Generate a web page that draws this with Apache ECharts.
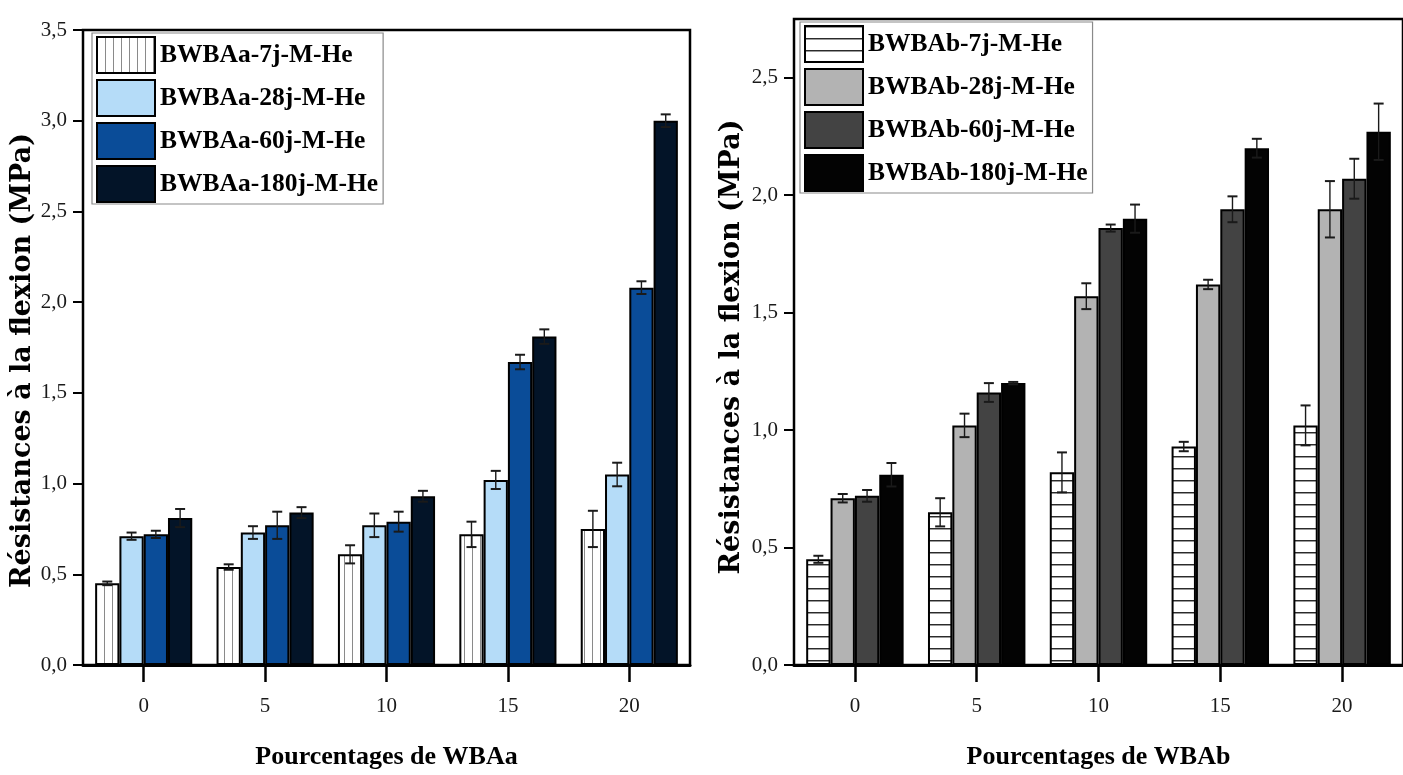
<!DOCTYPE html>
<html>
<head>
<meta charset="utf-8">
<script src="https://cdn.jsdelivr.net/npm/echarts@6/dist/echarts.min.js"></script>
<style>html,body{margin:0;padding:0;background:#fff}#c{width:1403px;height:775px}</style>
</head>
<body>
<div id="c"></div>
<script>
// ---------- DATA ----------
const categories = ['0', '5', '10', '15', '20'];
const namesA = ['BWBAa-7j-M-He', 'BWBAa-28j-M-He', 'BWBAa-60j-M-He', 'BWBAa-180j-M-He'];
const namesB = ['BWBAb-7j-M-He', 'BWBAb-28j-M-He', 'BWBAb-60j-M-He', 'BWBAb-180j-M-He'];

const a7   = [0.45, 0.54, 0.61, 0.72, 0.75];
const a28  = [0.71, 0.73, 0.77, 1.02, 1.05];
const a60  = [0.72, 0.77, 0.79, 1.67, 2.08];
const a180 = [0.81, 0.84, 0.93, 1.81, 3.00];
const a7Err   = [0.010, 0.015, 0.050, 0.070, 0.100];
const a28Err  = [0.020, 0.035, 0.065, 0.050, 0.065];
const a60Err  = [0.020, 0.075, 0.055, 0.040, 0.035];
const a180Err = [0.050, 0.030, 0.030, 0.040, 0.035];

const b7   = [0.45, 0.65, 0.82, 0.93, 1.02];
const b28  = [0.71, 1.02, 1.57, 1.62, 1.94];
const b60  = [0.72, 1.16, 1.86, 1.94, 2.07];
const b180 = [0.81, 1.20, 1.90, 2.20, 2.27];
const b7Err   = [0.015, 0.060, 0.085, 0.020, 0.085];
const b28Err  = [0.018, 0.050, 0.055, 0.020, 0.120];
const b60Err  = [0.025, 0.040, 0.015, 0.055, 0.085];
const b180Err = [0.050, 0.005, 0.060, 0.040, 0.120];

const yTicksA = [0, 0.5, 1.0, 1.5, 2.0, 2.5, 3.0, 3.5];
const yTicksB = [0, 0.5, 1.0, 1.5, 2.0, 2.5];

// ---------- STYLE HELPERS ----------
function hatch(vertical) {
  const c = document.createElement('canvas');
  if (vertical) {
    c.width = 8; c.height = 8;
    const g = c.getContext('2d');
    g.fillStyle = '#ffffff'; g.fillRect(0, 0, 8, 8);
    g.fillStyle = '#8a8a8a'; g.fillRect(0, 0, 1, 8);
  } else {
    c.width = 8; c.height = 12;
    const g = c.getContext('2d');
    g.fillStyle = '#ffffff'; g.fillRect(0, 0, 8, 12);
    g.fillStyle = '#2a2a2a'; g.fillRect(0, 0, 8, 1);
    g.fillStyle = '#9a9a9a'; g.fillRect(0, 1, 8, 1);
  }
  return { image: c, repeat: 'repeat' };
}
const colorsA = [hatch(true), '#b5dcf8', '#0a4c98', '#031428'];
const colorsB = [hatch(false), '#b3b3b3', '#434343', '#030303'];

const serif = 'Liberation Serif';
const fmt = v => Number(v).toFixed(1).replace('.', ',');

function barSeries(names, values, colors, axisIdx) {
  return names.map((n, i) => ({
    name: n, type: 'bar', xAxisIndex: axisIdx, yAxisIndex: axisIdx,
    data: values[i], barGap: '0%', barCategoryGap: '20%',
    itemStyle: { color: colors[i], borderColor: '#000', borderWidth: 2 },
    emphasis: { disabled: true }, z: 2
  }));
}
function errSeries(values, errs, axisIdx) {
  const data = [];
  values.forEach((arr, si) => arr.forEach((v, ci) => data.push([ci, si, v, errs[si][ci]])));
  return {
    type: 'custom', xAxisIndex: axisIdx, yAxisIndex: axisIdx, z: 5, silent: true,
    encode: { x: 0, y: 2 }, data: data,
    renderItem: function (params, api) {
      const ci = api.value(0), si = api.value(1), v = api.value(2), e = api.value(3);
      const band = api.size([1, 0])[0];
      const bw = band * 0.8 / 4;
      const off = (si - 1.5) * bw;
      const t = api.coord([ci, v + e]);
      const b = api.coord([ci, v - e]);
      const x = t[0] + off, cap = 5;
      const st = { stroke: '#1a1a1a', lineWidth: 1.4 };
      const sc = { stroke: '#1a1a1a', lineWidth: 2 };
      return { type: 'group', children: [
        { type: 'line', shape: { x1: x, y1: t[1], x2: x, y2: b[1] }, style: st },
        { type: 'line', shape: { x1: x - cap, y1: t[1], x2: x + cap, y2: t[1] }, style: sc },
        { type: 'line', shape: { x1: x - cap, y1: b[1], x2: x + cap, y2: b[1] }, style: sc }
      ]};
    }
  };
}
function xAxisCfg(idx, name) {
  return {
    type: 'category', gridIndex: idx, data: categories,
    axisLine: { show: true, lineStyle: { color: '#000', width: 3 } },
    axisTick: { show: true, alignWithLabel: true, length: 17, lineStyle: { color: '#000', width: 2.5 } },
    axisLabel: { fontFamily: serif, fontSize: 21, color: '#1a1a1a', margin: 31 },
    name: name, nameLocation: 'middle', nameGap: 79,
    nameTextStyle: { fontFamily: serif, fontWeight: 'bold', fontSize: 26, color: '#000' },
    splitLine: { show: false }
  };
}
function yAxisCfg(idx, max, gap, shift) {
  return {
    type: 'value', gridIndex: idx, min: 0, max: max, interval: 0.5,
    axisLine: { show: true, lineStyle: { color: '#000', width: 2 } },
    axisTick: { show: true, length: 10, lineStyle: { color: '#000', width: 2 } },
    axisLabel: { fontFamily: serif, fontSize: 21, color: '#1a1a1a', margin: 16, formatter: fmt, showMaxLabel: idx === 0 },
    splitLine: { show: false },
    name: 'Résistances à la flexion (MPa)', nameLocation: 'middle', nameGap: gap, nameRotate: 90,
    nameTextStyle: { fontFamily: 'DejaVu Serif', fontWeight: 'bold', fontSize: 27, color: '#000', padding: [0, shift, 0, 0] }
  };
}
function legendCfg(names, left, top) {
  return {
    data: names.map(n => ({ name: n, icon: 'rect' })), orient: 'vertical', left: left, top: top,
    itemWidth: 58, itemHeight: 36, itemGap: 5,
    padding: [3, 5, 1, 4],
    backgroundColor: '#fff', borderColor: '#8a8a8a', borderWidth: 1.2,
    selectedMode: false,
    textStyle: { fontFamily: serif, fontWeight: 'bold', fontSize: 25.5, color: '#000' }
  };
}

const chart = echarts.init(document.getElementById('c'), null, { renderer: 'canvas' });
chart.setOption({
  backgroundColor: '#fff',
  animation: false,
  grid: [
    { left: 83, top: 30, width: 607, height: 637, show: true, borderColor: '#000', borderWidth: 2.5, backgroundColor: 'transparent' },
    { left: 794, top: 19, width: 612, height: 646, show: true, borderColor: '#000', borderWidth: 2.5, backgroundColor: 'transparent' }
  ],
  legend: [legendCfg(namesA, 92, 33), legendCfg(namesB, 800, 22)],
  xAxis: [xAxisCfg(0, 'Pourcentages de WBAa'), xAxisCfg(1, 'Pourcentages de WBAb')],
  yAxis: [yAxisCfg(0, 3.5, 46, 26), yAxisCfg(1, 2.75, 49, 10)],
  series: [
    ...barSeries(namesA, [a7, a28, a60, a180], colorsA, 0),
    ...barSeries(namesB, [b7, b28, b60, b180], colorsB, 1),
    errSeries([a7, a28, a60, a180], [a7Err, a28Err, a60Err, a180Err], 0),
    errSeries([b7, b28, b60, b180], [b7Err, b28Err, b60Err, b180Err], 1)
  ]
});
</script>
</body>
</html>
